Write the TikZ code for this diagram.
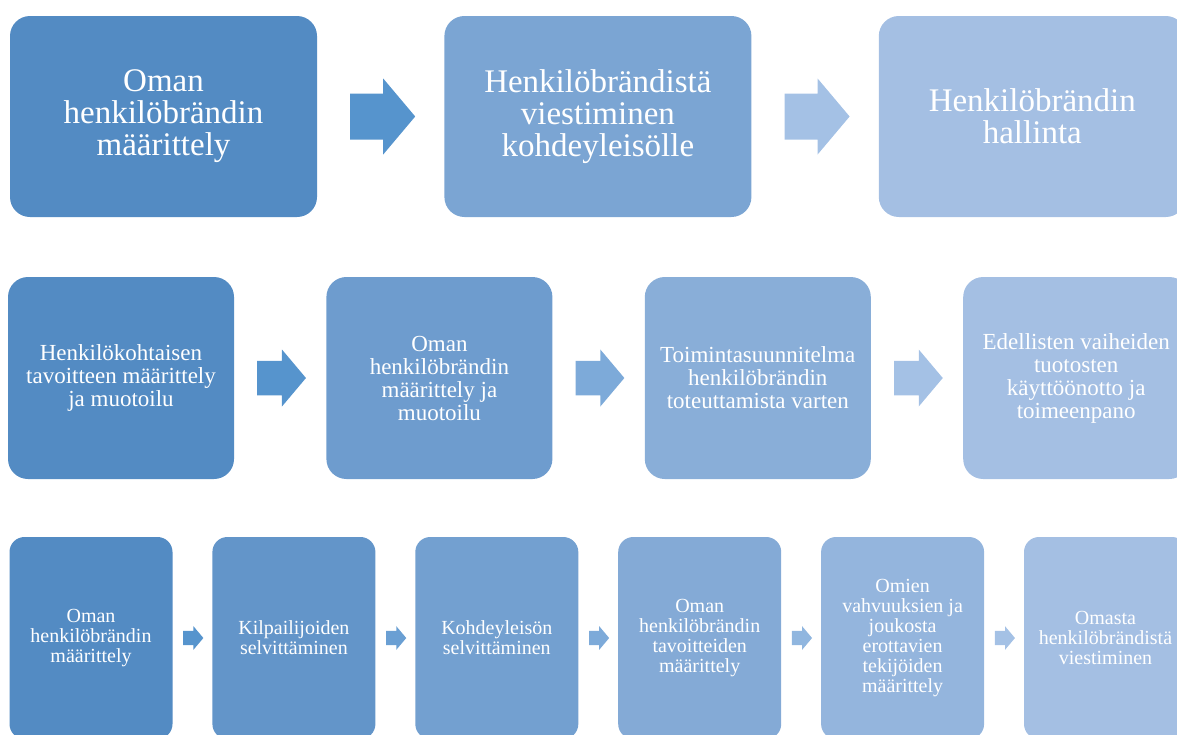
\documentclass[tikz,border=0pt]{standalone}
\usepackage{fontspec}
\setmainfont{Liberation Serif}
\usetikzlibrary{positioning}
\definecolor{boxdark}{RGB}{83,139,195}
\definecolor{boxlight}{RGB}{164,191,227}
\definecolor{arrdark}{RGB}{86,148,205}
\definecolor{arrlight}{RGB}{164,193,229}
\tikzset{stepbox/.style = {text = white, align = center, inner sep = 0}}
\tikzset{bigbox/.style = {stepbox, rounded corners = 20pt, minimum width = 307pt,
                          minimum height = 201pt, font = \fontsize{33}{32}\selectfont}}
\tikzset{midbox/.style = {stepbox, rounded corners = 20pt, minimum width = 226pt,
                          minimum height = 202pt, font = \fontsize{23}{23}\selectfont}}
\tikzset{smallbox/.style = {stepbox, rounded corners = 15pt, minimum width = 163pt,
                            minimum height = 202pt, font = \fontsize{20}{20}\selectfont}}
\tikzset{blockarrow/.pic = {\fill [pic actions] (0, -23) -- (33, -23) -- (33, -38)
                            -- (65, 0) -- (33, 38) -- (33, 23) -- (0, 23) -- cycle;}}

\begin{document}
\begin{tikzpicture}[x = 1pt, y = -1pt]
    \useasboundingbox (0, 0) rectangle (1177, 734);

    % top row
    \node [bigbox, fill = boxdark] (a1) at (163.5, 116.5) {Oman\\ henkilöbrändin\\ määrittely};
    \node [bigbox, fill = boxdark!50!boxlight, right = 127pt of a1] (a2) {Henkilöbrändistä\\ viestiminen\\ kohdeyleisölle};
    \node [bigbox, fill = boxlight, right = 127pt of a2] (a3) {Henkilöbrändin\\ hallinta};

    \coordinate [right = 33pt of a1] (a12);
    \coordinate [right = 33pt of a2] (a23);
    \pic [fill = arrdark] at (a12) {blockarrow};
    \pic [fill = arrlight] at (a23) {blockarrow};

    % middle row
    \node [midbox, fill = boxdark] (b1) at (121, 378) {Henkilökohtaisen\\ tavoitteen määrittely\\ ja muotoilu};
    \node [midbox, fill = boxdark!67!boxlight, right = 92pt of b1] (b2) {Oman\\ henkilöbrändin\\ määrittely ja\\ muotoilu};
    \node [midbox, fill = boxdark!33!boxlight, right = 92pt of b2] (b3) {Toimintasuunnitelma\\ henkilöbrändin\\ toteuttamista varten};
    \node [midbox, fill = boxlight, right = 92pt of b3] (b4) {Edellisten vaiheiden\\ tuotosten\\ käyttöönotto ja\\ toimeenpano};

    \coordinate [right = 23pt of b1] (b12);
    \coordinate [right = 23pt of b2] (b23);
    \coordinate [right = 23pt of b3] (b34);
    \pic [fill = arrdark, scale = 0.75] at (b12) {blockarrow};
    \pic [fill = arrdark!50!arrlight, scale = 0.75] at (b23) {blockarrow};
    \pic [fill = arrlight, scale = 0.75] at (b34) {blockarrow};

    % bottom row
    \node [smallbox, fill = boxdark] (c1) at (91, 638) {Oman\\ henkilöbrändin\\ määrittely};
    \node [smallbox, fill = boxdark!80!boxlight, right = 39.5pt of c1] (c2) {Kilpailijoiden\\ selvittäminen};
    \node [smallbox, fill = boxdark!60!boxlight, right = 39.5pt of c2] (c3) {Kohdeyleisön\\ selvittäminen};
    \node [smallbox, fill = boxdark!40!boxlight, right = 39.5pt of c3] (c4) {Oman\\ henkilöbrändin\\ tavoitteiden\\ määrittely};
    \node [smallbox, fill = boxdark!20!boxlight, right = 39.5pt of c4] (c5) {Omien\\ vahvuuksien ja\\ joukosta\\ erottavien\\ tekijöiden\\ määrittely};
    \node [smallbox, fill = boxlight, right = 39.5pt of c5] (c6) {Omasta\\ henkilöbrändistä\\ viestiminen};

    \coordinate [right = 10.5pt of c1] (c12);
    \coordinate [right = 10.5pt of c2] (c23);
    \coordinate [right = 10.5pt of c3] (c34);
    \coordinate [right = 10.5pt of c4] (c45);
    \coordinate [right = 10.5pt of c5] (c56);
    \pic [fill = arrdark, scale = 0.31] at (c12) {blockarrow};
    \pic [fill = arrdark!75!arrlight, scale = 0.31] at (c23) {blockarrow};
    \pic [fill = arrdark!50!arrlight, scale = 0.31] at (c34) {blockarrow};
    \pic [fill = arrdark!25!arrlight, scale = 0.31] at (c45) {blockarrow};
    \pic [fill = arrlight, scale = 0.31] at (c56) {blockarrow};
  \end{tikzpicture}
\end{document}
